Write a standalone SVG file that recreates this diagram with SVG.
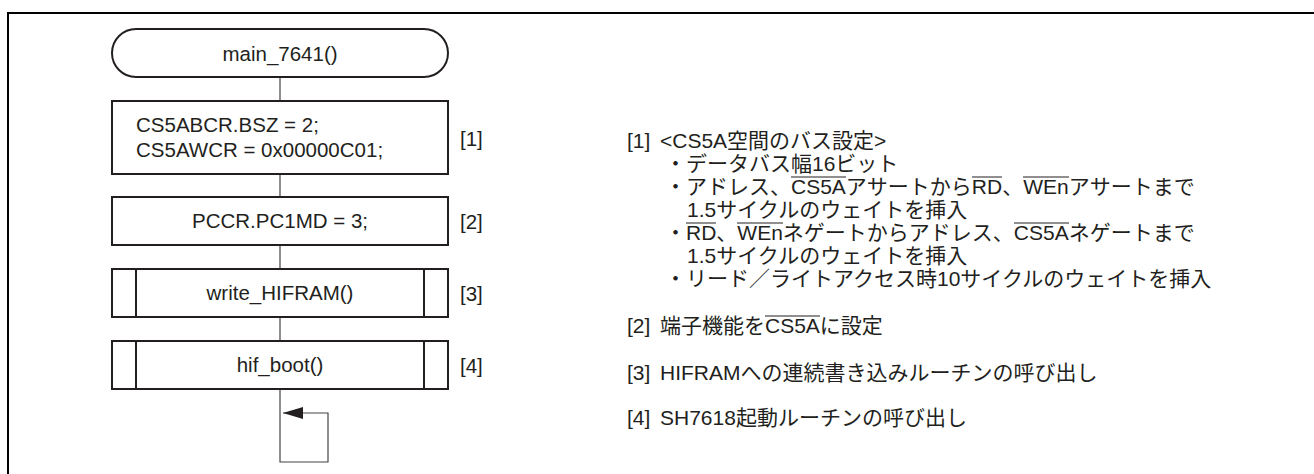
<svg xmlns="http://www.w3.org/2000/svg" width="1314" height="474" viewBox="0 0 1314 474">
<style>
.frame{fill:none;stroke:#000;stroke-width:2}
.box{fill:#fff;stroke:#231f20;stroke-width:2}
.conn{fill:none;stroke:#444;stroke-width:1.2}
.ft{font-family:"Liberation Sans",Arial,sans-serif;font-size:20.5px;fill:#231f20}
.rt{font-family:"Liberation Sans","Noto Sans CJK JP",sans-serif;font-size:21px;fill:#231f20}
.ol{fill:none;stroke:#231f20;stroke-width:1.2}
</style>
<defs>
<marker id="arr" markerWidth="20" markerHeight="12" refX="20" refY="6" orient="auto" markerUnits="userSpaceOnUse">
<path d="M0,0 L20,6 L0,12 Z" fill="#231f20"/>
</marker>
</defs>
<path class="frame" d="M8,474 V13 H1314"/>
<g id="connectors">
<line class="conn" x1="280" y1="77" x2="280" y2="101"/>
<line class="conn" x1="280" y1="174" x2="280" y2="197"/>
<line class="conn" x1="280" y1="245" x2="280" y2="269"/>
<line class="conn" x1="280" y1="317" x2="280" y2="341"/>
<path class="conn" d="M280,389 V462 H328 V413 H283" marker-end="url(#arr)"/>
</g>
<g id="start">
<rect class="box" x="112" y="29" width="336" height="48" rx="24"/>
<text class="ft" x="280" y="61" text-anchor="middle">main_7641()</text>
</g>
<g id="step1">
<rect class="box" x="112" y="101" width="336" height="73"/>
<text class="ft" x="136" y="132">CS5ABCR.BSZ = 2;</text>
<text class="ft" x="136" y="157">CS5AWCR = 0x00000C01;</text>
<text class="ft" x="460" y="146">[1]</text>
</g>
<g id="step2">
<rect class="box" x="112" y="197" width="336" height="48"/>
<text class="ft" x="280" y="228" text-anchor="middle">PCCR.PC1MD = 3;</text>
<text class="ft" x="460" y="229">[2]</text>
</g>
<g id="step3">
<rect class="box" x="112" y="269" width="336" height="48"/>
<line class="box" x1="136" y1="269" x2="136" y2="317"/>
<line class="box" x1="424" y1="269" x2="424" y2="317"/>
<text class="ft" x="280" y="300" text-anchor="middle">write_HIFRAM()</text>
<text class="ft" x="460" y="301">[3]</text>
</g>
<g id="step4">
<rect class="box" x="112" y="341" width="336" height="48"/>
<line class="box" x1="136" y1="341" x2="136" y2="389"/>
<line class="box" x1="424" y1="341" x2="424" y2="389"/>
<text class="ft" x="280" y="372" text-anchor="middle">hif_boot()</text>
<text class="ft" x="460" y="373">[4]</text>
</g>
<g id="notes">
<text class="rt" x="627" y="148">[1]</text>
<text class="rt" x="660" y="148">&lt;CS5A空間のバス設定&gt;</text>
<text class="rt" x="665" y="171">・データバス幅16ビット</text>
<text class="rt" x="665" y="194">・アドレス、CS5AアサートからRD、WEnアサートまで</text>
<text class="rt" x="687" y="217">1.5サイクルのウェイトを挿入</text>
<text class="rt" x="665" y="240">・RD、WEnネゲートからアドレス、CS5Aネゲートまで</text>
<text class="rt" x="687" y="263">1.5サイクルのウェイトを挿入</text>
<text class="rt" x="665" y="286">・リード／ライトアクセス時10サイクルのウェイトを挿入</text>
<text class="rt" x="627" y="333">[2]</text>
<text class="rt" x="660" y="333">端子機能をCS5Aに設定</text>
<text class="rt" x="627" y="380">[3]</text>
<text class="rt" x="660" y="380">HIFRAMへの連続書き込みルーチンの呼び出し</text>
<text class="rt" x="627" y="425">[4]</text>
<text class="rt" x="660" y="425">SH7618起動ルーチンの呼び出し</text>
<path class="ol" d="M791,177H846M972,177H1002M1023,177H1069M686,223H716M737,223H783M1014,223H1069M765,316H820"/>
</g>
</svg>
